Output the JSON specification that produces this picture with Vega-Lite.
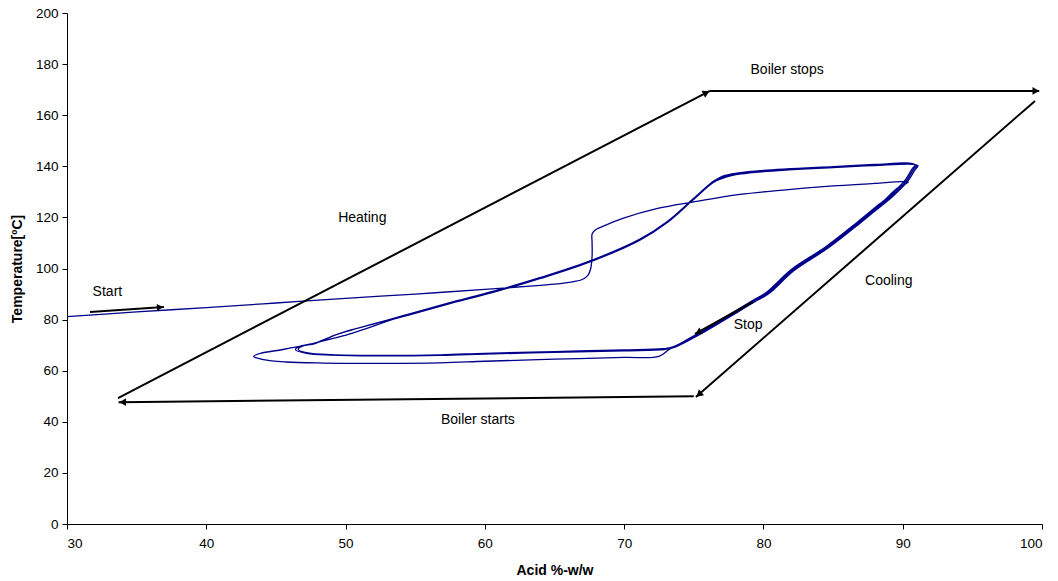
{
  "$schema": "https://vega.github.io/schema/vega-lite/v6.json",
  "width": 975,
  "height": 511,
  "autosize": "none",
  "padding": {"left": 67, "top": 13, "right": 16, "bottom": 57},
  "background": "white",
  "config": {
    "view": {"stroke": null},
    "font": "Liberation Sans",
    "axis": {
      "grid": false,
      "domainColor": "black",
      "tickColor": "black",
      "labelColor": "black",
      "titleColor": "black",
      "labelFont": "Liberation Sans",
      "titleFont": "Liberation Sans",
      "labelFontSize": 13.5,
      "titleFontSize": 14,
      "titleFontWeight": "bold",
      "tickSize": 5,
      "domainWidth": 1,
      "tickWidth": 1
    }
  },
  "datasets": {
    "curve": [
      {"i":1,"x":30,"y":81.2},{"i":2,"x":35,"y":83.0},{"i":3,"x":40,"y":84.7},{"i":4,"x":45,"y":86.5},
      {"i":5,"x":50,"y":88.3},{"i":6,"x":55,"y":90.0},{"i":7,"x":60,"y":91.8},{"i":8,"x":63,"y":93.0},
      {"i":9,"x":65,"y":93.9},{"i":10,"x":66.3,"y":94.8},{"i":11,"x":67.0,"y":95.7},{"i":12,"x":67.4,"y":97.3},
      {"i":13,"x":67.6,"y":100},{"i":14,"x":67.7,"y":105},{"i":15,"x":67.7,"y":110},{"i":16,"x":67.7,"y":113.5},
      {"i":17,"x":67.9,"y":115.0},{"i":18,"x":68.6,"y":116.8},{"i":19,"x":69.9,"y":119.6},{"i":20,"x":72.4,"y":123.5},
      {"i":21,"x":74.9,"y":126.0},{"i":22,"x":78.3,"y":129.0},{"i":23,"x":81.2,"y":130.6},{"i":24,"x":85,"y":132.3},
      {"i":25,"x":88,"y":133.3},{"i":26,"x":89.9,"y":134.0},{"i":27,"x":90.4,"y":133.8},{"i":28,"x":90.1,"y":132.8},
      {"i":29,"x":89.6,"y":131.4},{"i":30,"x":88.5,"y":125.8},{"i":31,"x":87.0,"y":118.9},{"i":32,"x":84.7,"y":109.0},
      {"i":33,"x":82.2,"y":99.9},{"i":34,"x":80.3,"y":91.0},{"i":35,"x":79.3,"y":87.4},{"i":36,"x":75.3,"y":74.5},
      {"i":37,"x":73.8,"y":70.0},{"i":38,"x":73.2,"y":68.2},{"i":39,"x":72.5,"y":65.6},{"i":40,"x":70,"y":65.2},
      {"i":41,"x":65,"y":64.5},{"i":42,"x":60,"y":63.7},{"i":43,"x":56.8,"y":63.1},{"i":44,"x":52,"y":62.9},
      {"i":45,"x":48.4,"y":63.0},{"i":46,"x":45.7,"y":63.4},{"i":47,"x":44.1,"y":64.3},{"i":48,"x":43.4,"y":65.6},
      {"i":49,"x":43.9,"y":66.8},{"i":50,"x":45.5,"y":68.3},{"i":51,"x":47.5,"y":70.5},{"i":52,"x":49.8,"y":73.6},
      {"i":53,"x":54.4,"y":81.8},{"i":54,"x":58,"y":87.2},{"i":55,"x":61.1,"y":91.6},{"i":56,"x":64,"y":96.3},
      {"i":57,"x":67.8,"y":103.3},{"i":58,"x":71.1,"y":111.2},{"i":59,"x":73.1,"y":118.2},{"i":60,"x":74.9,"y":126.8},
      {"i":61,"x":76.4,"y":133.9},{"i":62,"x":77.1,"y":135.8},{"i":63,"x":78.3,"y":137.2},{"i":64,"x":80,"y":138.2},
      {"i":65,"x":85,"y":139.7},{"i":66,"x":88,"y":140.5},{"i":67,"x":90.6,"y":141.0},{"i":68,"x":91.0,"y":140.3},
      {"i":69,"x":90.8,"y":139.0},{"i":70,"x":90.3,"y":134.6},{"i":71,"x":89.1,"y":128.0},{"i":72,"x":88.4,"y":124.9},
      {"i":73,"x":86.9,"y":118.2},{"i":74,"x":84.6,"y":108.4},{"i":75,"x":82.1,"y":99.4},{"i":76,"x":80.3,"y":90.4},
      {"i":77,"x":79.2,"y":86.9},{"i":78,"x":75.2,"y":74.0},{"i":79,"x":73.5,"y":69.3},{"i":80,"x":72.8,"y":68.6},
      {"i":81,"x":70,"y":68.1},{"i":82,"x":65,"y":67.5},{"i":83,"x":60,"y":66.8},{"i":84,"x":56.8,"y":66.2},
      {"i":85,"x":52,"y":66.0},{"i":86,"x":49,"y":66.3},{"i":87,"x":47.3,"y":67.0},{"i":88,"x":46.6,"y":68.3},
      {"i":89,"x":46.9,"y":69.6},{"i":90,"x":47.8,"y":70.6},{"i":91,"x":49.6,"y":74.6},{"i":92,"x":54.4,"y":81.6},
      {"i":93,"x":58,"y":87.0},{"i":94,"x":61.1,"y":91.4},{"i":95,"x":64,"y":96.1},{"i":96,"x":67.8,"y":103.1},
      {"i":97,"x":71.1,"y":111.0},{"i":98,"x":73.1,"y":118.0},{"i":99,"x":74.9,"y":126.6},{"i":100,"x":76.4,"y":133.7},
      {"i":101,"x":77.2,"y":135.6},{"i":102,"x":78.4,"y":137.0},{"i":103,"x":80,"y":137.9},{"i":104,"x":85,"y":139.5},
      {"i":105,"x":88,"y":140.3},{"i":106,"x":90.7,"y":140.8},{"i":107,"x":91.1,"y":140.2},{"i":108,"x":90.9,"y":138.8},
      {"i":109,"x":90.4,"y":134.4},{"i":110,"x":89.2,"y":127.8},{"i":111,"x":88.5,"y":124.7},{"i":112,"x":87.0,"y":118.0},
      {"i":113,"x":84.7,"y":108.2},{"i":114,"x":82.2,"y":99.2},{"i":115,"x":80.4,"y":90.2},{"i":116,"x":79.3,"y":86.7},
      {"i":117,"x":75.3,"y":73.8},{"i":118,"x":73.6,"y":69.1},{"i":119,"x":72.9,"y":68.3},{"i":120,"x":70,"y":67.8},
      {"i":121,"x":65,"y":67.2},{"i":122,"x":60,"y":66.5},{"i":123,"x":56.8,"y":66.0},{"i":124,"x":52,"y":65.8},
      {"i":125,"x":49,"y":66.1},{"i":126,"x":47.2,"y":66.8},{"i":127,"x":46.4,"y":68.2},{"i":128,"x":46.7,"y":69.5},
      {"i":129,"x":47.6,"y":70.4},{"i":130,"x":49.5,"y":74.4},{"i":131,"x":54.4,"y":81.9},{"i":132,"x":58,"y":87.4},
      {"i":133,"x":61.1,"y":91.8},{"i":134,"x":64,"y":96.5},{"i":135,"x":67.8,"y":103.5},{"i":136,"x":71.1,"y":111.4},
      {"i":137,"x":73.1,"y":118.4},{"i":138,"x":74.9,"y":127.0},{"i":139,"x":76.4,"y":134.1},{"i":140,"x":77.0,"y":136.0},
      {"i":141,"x":78.2,"y":137.4},{"i":142,"x":80,"y":138.4},{"i":143,"x":85,"y":139.9},{"i":144,"x":88,"y":140.7},
      {"i":145,"x":90.5,"y":141.2},{"i":146,"x":90.9,"y":140.5},{"i":147,"x":90.7,"y":139.2},{"i":148,"x":90.2,"y":134.8},
      {"i":149,"x":89.0,"y":128.2},{"i":150,"x":88.3,"y":125.1},{"i":151,"x":86.8,"y":118.4},{"i":152,"x":84.5,"y":108.6},
      {"i":153,"x":82.0,"y":99.6},{"i":154,"x":80.2,"y":90.6},{"i":155,"x":79.1,"y":87.1},{"i":156,"x":75.2,"y":74.3}
    ],
    "arrows": [
      {"seg":"heating","i":1,"x":33.66,"y":49.3},{"seg":"heating","i":2,"x":76.16,"y":169.5},
      {"seg":"stops","i":1,"x":76.16,"y":169.5},{"seg":"stops","i":2,"x":99.8,"y":169.5},
      {"seg":"cooling","i":1,"x":99.5,"y":165.6},{"seg":"cooling","i":2,"x":75.15,"y":49.7},
      {"seg":"starts","i":1,"x":75.0,"y":50.0},{"seg":"starts","i":2,"x":33.7,"y":47.7},
      {"seg":"start","i":1,"x":31.65,"y":83.0},{"seg":"start","i":2,"x":36.96,"y":84.9},
      {"seg":"stop","i":1,"x":79.25,"y":86.9},{"seg":"stop","i":2,"x":75.08,"y":74.4}
    ],
    "heads": [
      {"name":"heating","x":75.9,"y":168.8},
      {"name":"stops","x":99.56,"y":169.5},
      {"name":"cooling","x":75.37,"y":50.7},
      {"name":"starts","x":34.0,"y":47.7},
      {"name":"start","x":36.68,"y":84.8},
      {"name":"stop","x":75.33,"y":75.1}
    ],
    "labels": [
      {"label":"Boiler stops","x":81.7,"y":177.7},
      {"label":"Heating","x":51.2,"y":119.8},
      {"label":"Cooling","x":89.0,"y":95.1},
      {"label":"Boiler starts","x":59.5,"y":40.7},
      {"label":"Start","x":32.9,"y":90.8},
      {"label":"Stop","x":78.9,"y":77.9}
    ]
  },
  "encoding": {
    "x": {
      "field": "x", "type": "quantitative",
      "scale": {"domain": [30, 100], "nice": false, "zero": false},
      "axis": {"title": "Acid %-w/w", "values": [30,40,50,60,70,80,90,100], "labelPadding": 7, "titlePadding": 14}
    },
    "y": {
      "field": "y", "type": "quantitative",
      "scale": {"domain": [0, 200], "nice": false},
      "axis": {"title": "Temperature[ºC]", "values": [0,20,40,60,80,100,120,140,160,180,200], "labelPadding": 4, "titlePadding": 11}
    }
  },
  "layer": [
    {
      "data": {"name": "curve"},
      "mark": {"type": "line", "color": "#00008b", "strokeWidth": 1.3, "interpolate": "catmull-rom", "strokeJoin": "round"},
      "encoding": {"order": {"field": "i", "type": "quantitative"}}
    },
    {
      "data": {"name": "arrows"},
      "mark": {"type": "line", "color": "black", "strokeWidth": 2},
      "encoding": {"detail": {"field": "seg"}, "order": {"field": "i", "type": "quantitative"}}
    },
    {
      "data": {"name": "heads"}, "transform": [{"filter": "datum.name == 'heating'"}],
      "mark": {"type": "point", "shape": "triangle-right", "filled": true, "color": "black", "size": 60, "angle": -27.4, "opacity": 1}
    },
    {
      "data": {"name": "heads"}, "transform": [{"filter": "datum.name == 'stops'"}],
      "mark": {"type": "point", "shape": "triangle-right", "filled": true, "color": "black", "size": 60, "angle": 0, "opacity": 1}
    },
    {
      "data": {"name": "heads"}, "transform": [{"filter": "datum.name == 'cooling'"}],
      "mark": {"type": "point", "shape": "triangle-right", "filled": true, "color": "black", "size": 60, "angle": 138.9, "opacity": 1}
    },
    {
      "data": {"name": "heads"}, "transform": [{"filter": "datum.name == 'starts'"}],
      "mark": {"type": "point", "shape": "triangle-right", "filled": true, "color": "black", "size": 60, "angle": 179.6, "opacity": 1}
    },
    {
      "data": {"name": "heads"}, "transform": [{"filter": "datum.name == 'start'"}],
      "mark": {"type": "point", "shape": "triangle-right", "filled": true, "color": "black", "size": 50, "angle": -4.7, "opacity": 1}
    },
    {
      "data": {"name": "heads"}, "transform": [{"filter": "datum.name == 'stop'"}],
      "mark": {"type": "point", "shape": "triangle-right", "filled": true, "color": "black", "size": 50, "angle": 151.1, "opacity": 1}
    },
    {
      "data": {"name": "labels"},
      "mark": {"type": "text", "font": "Liberation Sans", "fontSize": 14, "color": "black", "align": "center", "baseline": "middle"},
      "encoding": {"text": {"field": "label"}}
    }
  ]
}
